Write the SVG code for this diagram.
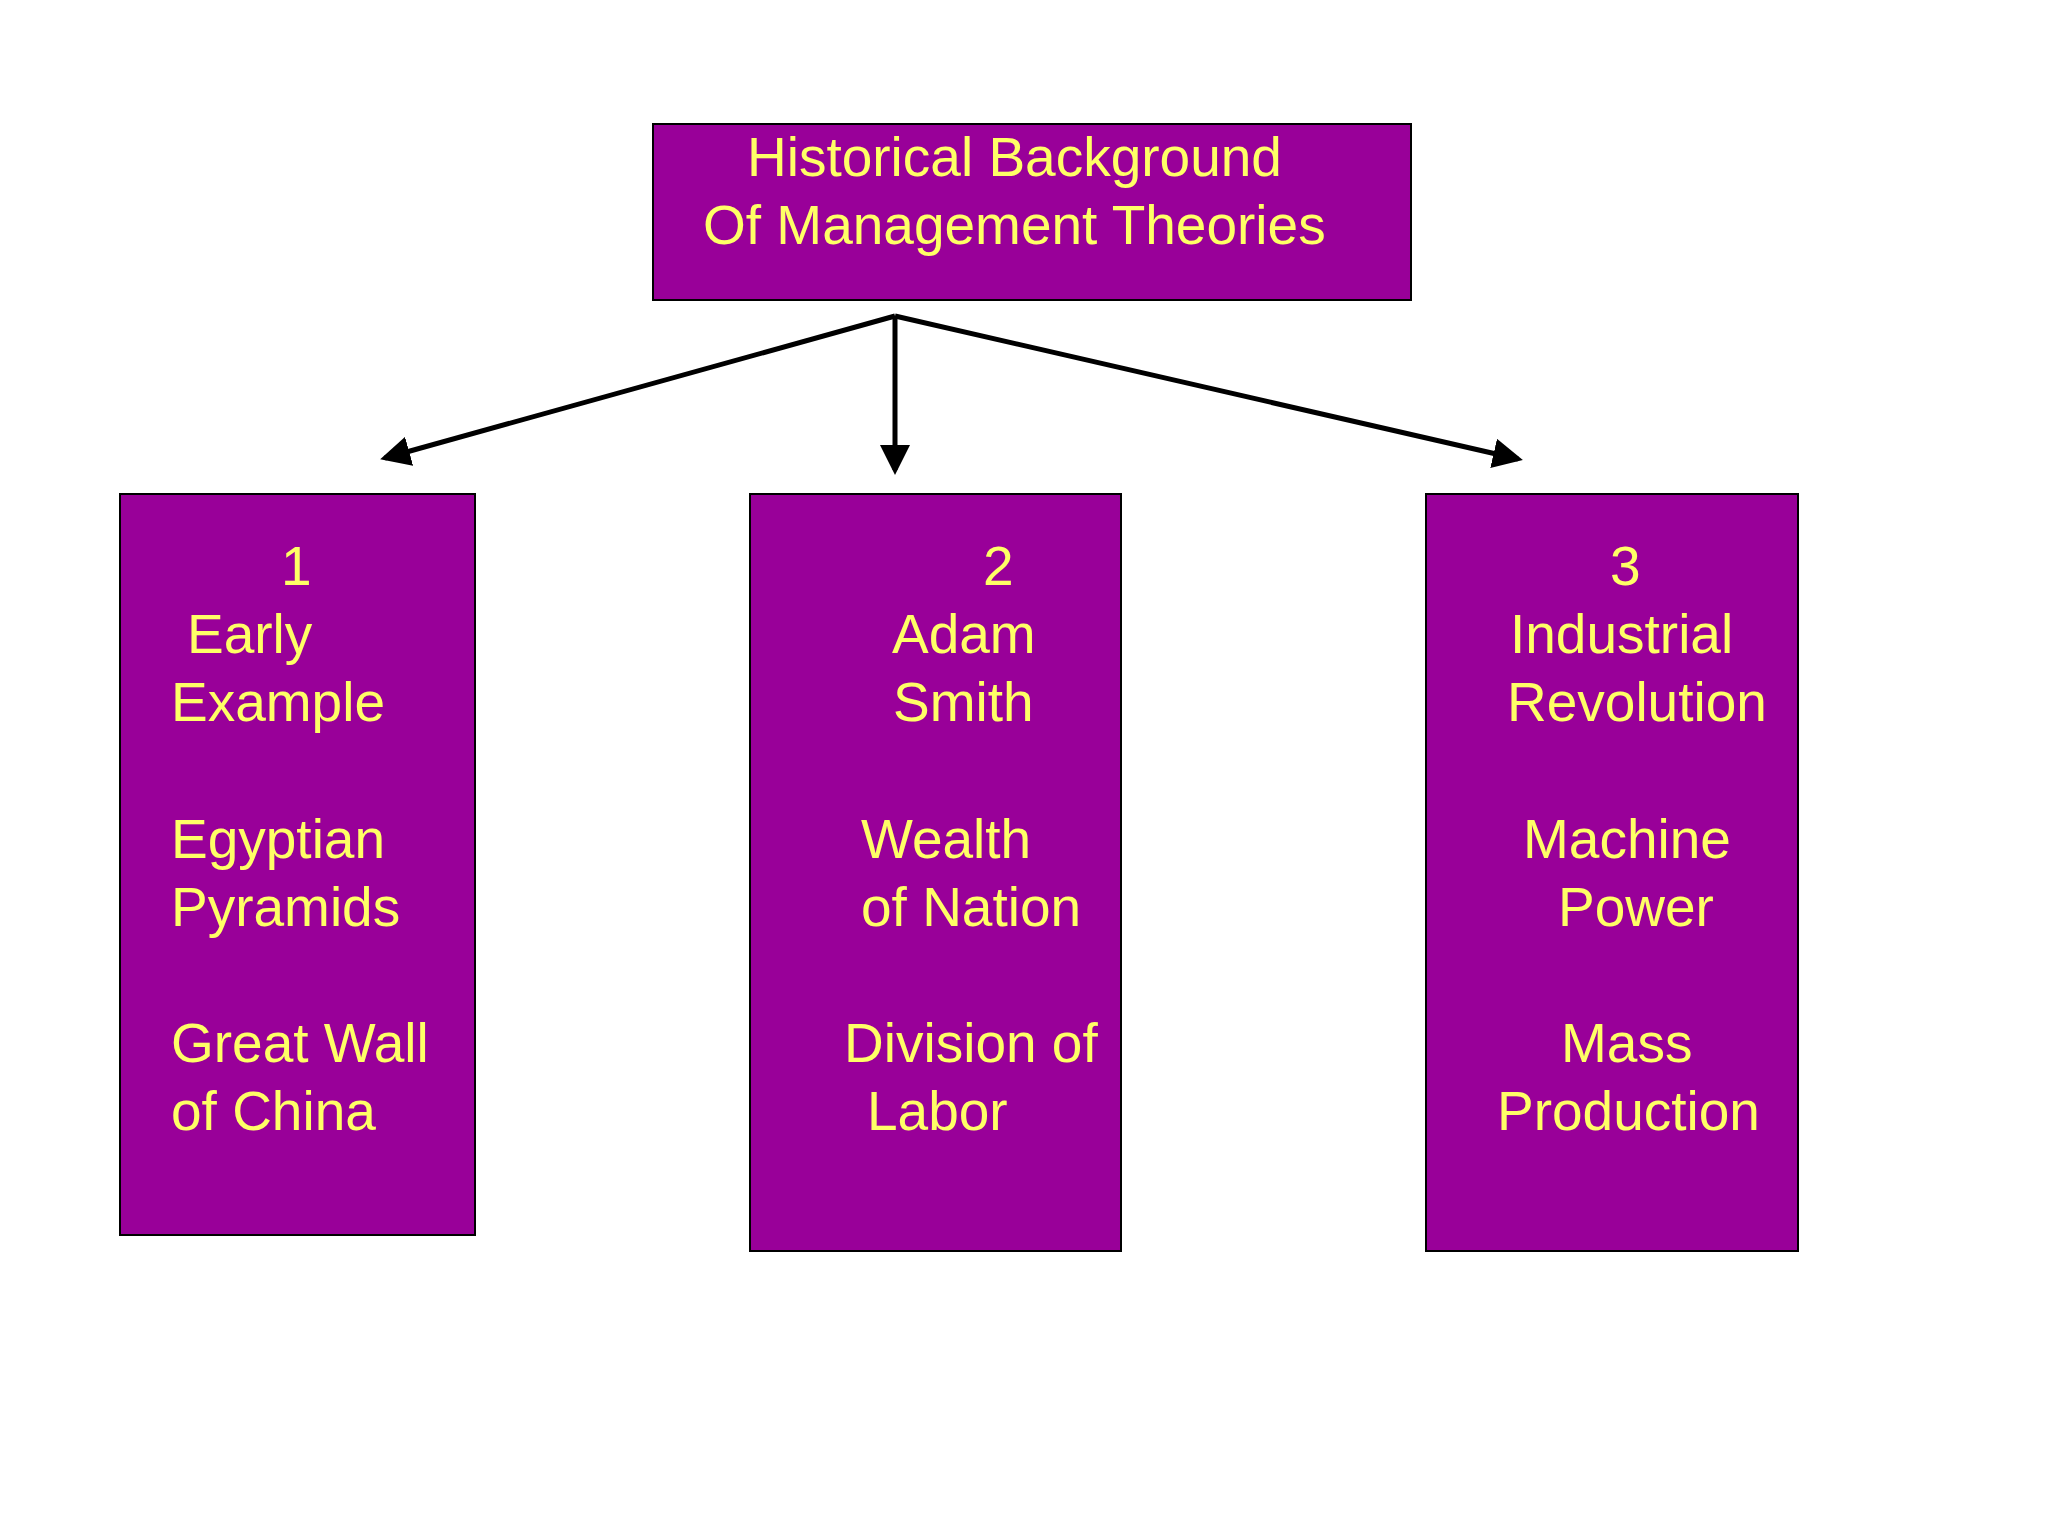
<svg xmlns="http://www.w3.org/2000/svg" width="2048" height="1536" viewBox="0 0 2048 1536">
<style>
.box{fill:#990099;stroke:#000;stroke-width:2}
.t{font-family:"Liberation Sans",Arial,sans-serif;font-size:55px;fill:#ffff66}
.c{stroke:#000;stroke-width:5;fill:none;marker-end:url(#a)}
</style>
<defs><marker id="a" markerWidth="6" markerHeight="6" refX="5" refY="3" orient="auto"><path d="M0,0L6,3L0,6z" fill="#000"/></marker></defs>
<rect width="2048" height="1536" fill="#fff"/>
<g id="top"><rect class="box" x="653" y="124" width="758" height="176"/>
<text class="t" x="747" y="176">Historical Background</text><text class="t" x="703" y="244">Of Management Theories</text></g>
<g id="n1"><rect class="box" x="120" y="494" width="355" height="741"/>
<text class="t" x="281" y="585">1</text><text class="t" x="187" y="653">Early</text><text class="t" x="171" y="721">Example</text>
<text class="t" x="171" y="858">Egyptian</text><text class="t" x="171" y="926">Pyramids</text>
<text class="t" x="171" y="1062">Great Wall</text><text class="t" x="171" y="1130">of China</text></g>
<g id="n2"><rect class="box" x="750" y="494" width="371" height="757"/>
<text class="t" x="983" y="585">2</text><text class="t" x="892" y="653">Adam</text><text class="t" x="893" y="721">Smith</text>
<text class="t" x="861" y="858">Wealth</text><text class="t" x="861" y="926">of Nation</text>
<text class="t" x="844" y="1062">Division of</text><text class="t" x="867" y="1130">Labor</text></g>
<g id="n3"><rect class="box" x="1426" y="494" width="372" height="757"/>
<text class="t" x="1610" y="585">3</text><text class="t" x="1510" y="653">Industrial</text><text class="t" x="1507" y="721">Revolution</text>
<text class="t" x="1523" y="858">Machine</text><text class="t" x="1558" y="926">Power</text>
<text class="t" x="1561" y="1062">Mass</text><text class="t" x="1497" y="1130">Production</text></g>
<g id="connectors">
<path class="c" d="M895,316L385,458"/>
<path class="c" d="M895,316L895,470"/>
<path class="c" d="M895,316L1518,459"/>
</g>
</svg>
